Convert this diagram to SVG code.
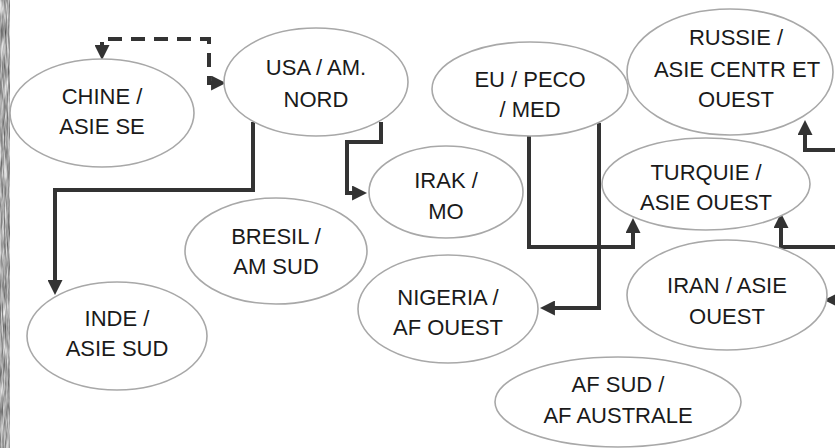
<svg xmlns="http://www.w3.org/2000/svg" width="835" height="448" viewBox="0 0 835 448">
<style>
.n ellipse{fill:#fff;stroke:#a8a8a8;stroke-width:1.6}
.n text{font-family:"Liberation Sans",Arial,sans-serif;font-size:22px;fill:#1a1a1a;text-anchor:middle}
.c path{fill:none;stroke:#333;stroke-width:4;marker-end:url(#ah)}
.c path.d{stroke-dasharray:14 9;marker-start:url(#ah)}
</style>
<defs>
<marker id="ah" viewBox="0 0 10 10" refX="3.3" refY="5" markerWidth="15" markerHeight="15" markerUnits="userSpaceOnUse" orient="auto-start-reverse">
<path d="M0,0 L10,5 L0,10 z" fill="#333"/>
</marker>
<filter id="noise" x="0" y="0" width="10" height="448" filterUnits="userSpaceOnUse" color-interpolation-filters="sRGB">
<feTurbulence type="fractalNoise" baseFrequency="0.7 0.05" numOctaves="3" seed="5"/>
<feColorMatrix type="matrix" values="1 0 0 0 0.15  1 0 0 0 0.15  1 0 0 0 0.15  0 0 0 0 1"/>
</filter>
</defs>
<rect width="835" height="448" fill="#fff"/>
<g id="strip">
<rect x="0" y="0" width="10" height="448" fill="#aaa"/>
<rect x="0" y="0" width="10" height="448" fill="#aaa" filter="url(#noise)" opacity="0.8"/>
</g>
<g class="c" id="connectors">
<path class="d" d="M216,83 L209,83 L209,39 L102,39 L102,50"/>
<path d="M253,122 L253,190 L55,190 L55,285"/>
<path d="M381,122 L381,142 L347,142 L347,193 L357,193"/>
<path d="M529,136 L529,247 L633,247 L633,228"/>
<path d="M599,123 L599,308 L550,308"/>
<path d="M835,150 L805,150 L805,130"/>
<path d="M835,247 L781,247 L781,223"/>
<path d="M835,300 L834,300"/>
</g>
<g class="n" id="chine"><ellipse cx="102" cy="113" rx="92" ry="54"/><text x="102" y="104">CHINE /</text><text x="102" y="134">ASIE SE</text></g>
<g class="n" id="usa"><ellipse cx="316" cy="82" rx="92" ry="54"/><text x="316" y="75">USA / AM.</text><text x="316" y="107">NORD</text></g>
<g class="n" id="eu"><ellipse cx="530" cy="89" rx="98" ry="47"/><text x="530" y="87">EU / PECO</text><text x="530" y="117">/ MED</text></g>
<g class="n" id="russie"><ellipse cx="730" cy="72" rx="103" ry="63"/><text x="736" y="45">RUSSIE /</text><text x="737" y="77">ASIE CENTR ET</text><text x="736" y="107">OUEST</text></g>
<g class="n" id="irak"><ellipse cx="446" cy="192" rx="77" ry="46"/><text x="446" y="188">IRAK /</text><text x="446" y="219">MO</text></g>
<g class="n" id="turquie"><ellipse cx="706" cy="184" rx="104" ry="46"/><text x="706" y="180">TURQUIE /</text><text x="706" y="210">ASIE OUEST</text></g>
<g class="n" id="bresil"><ellipse cx="276" cy="251" rx="91" ry="53"/><text x="276" y="244">BRESIL /</text><text x="276" y="274">AM SUD</text></g>
<g class="n" id="nigeria"><ellipse cx="448" cy="309" rx="90" ry="54"/><text x="448" y="305">NIGERIA /</text><text x="448" y="335">AF OUEST</text></g>
<g class="n" id="iran"><ellipse cx="727" cy="295" rx="100" ry="55"/><text x="727" y="293">IRAN / ASIE</text><text x="727" y="324">OUEST</text></g>
<g class="n" id="inde"><ellipse cx="117" cy="336" rx="90" ry="54"/><text x="117" y="326">INDE /</text><text x="117" y="356">ASIE SUD</text></g>
<g class="n" id="afsud"><ellipse cx="618" cy="402" rx="123" ry="45"/><text x="618" y="392">AF SUD /</text><text x="618" y="423">AF AUSTRALE</text></g>
</svg>
